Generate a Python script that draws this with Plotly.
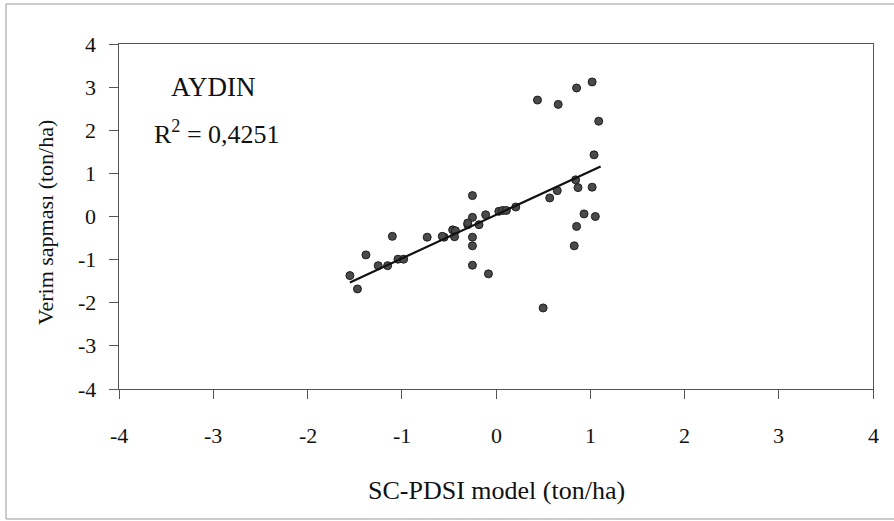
import plotly.graph_objects as go

# Scatter data (SC-PDSI model vs. yield deviation)
sc_pdsi = [-1.55, -1.47, -1.38, -1.25, -1.15, -1.10, -1.04, -0.98,
           -0.73, -0.55, -0.46, -0.43, -0.44, -0.30, -0.57,
           -0.25, -0.25, -0.25, -0.25, -0.25, -0.30, -0.18, -0.11, -0.08,
           0.03, 0.07, 0.11, 0.21, 0.44, 0.50, 0.57, 0.65, 0.66,
           0.845, 0.83, 0.855, 0.855, 0.87, 0.934, 1.02, 1.02, 1.04, 1.054, 1.09]
verim = [-1.37, -1.68, -0.89, -1.14, -1.14, -0.46, -0.99, -0.99,
         -0.48, -0.48, -0.31, -0.33, -0.47, -0.19, -0.46,
         0.485, -0.02, -0.48, -0.68, -1.13, -0.15, -0.19, 0.04, -1.33,
         0.12, 0.14, 0.14, 0.22, 2.70, -2.12, 0.43, 0.60, 2.60,
         0.85, -0.68, -0.23, 2.98, 0.67, 0.06, 3.12, 0.68, 1.43, 0.0, 2.21]

# Regression line end points
trend_x = [-1.55, 1.11]
trend_y = [-1.53, 1.16]

# Tick values and labels (both axes)
tick_vals = [-4, -3, -2, -1, 0, 1, 2, 3, 4]
tick_text = ["-4", "-3", "-2", "-1", "0", "1", "2", "3", "4"]

FONT = "Liberation Serif"
AXC = "#555555"
TXT = "#111111"

fig = go.Figure()
fig.add_trace(go.Scatter(
    x=sc_pdsi, y=verim, mode="markers",
    marker=dict(size=8, color="#4a4a4a", line=dict(color="#1e1e1e", width=1)),
    showlegend=False, hoverinfo="x+y"))
fig.add_trace(go.Scatter(
    x=trend_x, y=trend_y, mode="lines",
    line=dict(color="#111111", width=2.2),
    showlegend=False, hoverinfo="skip"))

axis_common = dict(
    range=[-4, 4], tickmode="array", tickvals=tick_vals, showticklabels=False,
    showgrid=False, zeroline=False,
    showline=True, linecolor=AXC, linewidth=1, mirror=True,
    ticks="outside", ticklen=9, tickcolor=AXC, tickwidth=1,
)
fig.update_xaxes(**axis_common)
fig.update_yaxes(**axis_common)

annotations = [
    dict(x=-3.0, y=3.0, xref="x", yref="y", text="AYDIN", showarrow=False,
         font=dict(family=FONT, size=27, color=TXT)),
    dict(x=-2.96, y=1.94, xref="x", yref="y", text="R<sup>2</sup> = 0,4251",
         showarrow=False, font=dict(family=FONT, size=26, color=TXT)),
    dict(x=0.5, y=(389 - 490) / 345, xref="paper", yref="paper",
         text="SC-PDSI model (ton/ha)", showarrow=False,
         xanchor="center", yanchor="middle",
         font=dict(family=FONT, size=26, color=TXT)),
    dict(x=(45 - 119) / 754, y=(389 - 223) / 345, xref="paper", yref="paper",
         text="Verim sapması (ton/ha)", showarrow=False, textangle=-90,
         xanchor="center", yanchor="middle",
         font=dict(family=FONT, size=22, color=TXT)),
]
# Tick labels drawn as serif text at the axis tick positions
for v, t in zip(tick_vals, tick_text):
    annotations.append(dict(
        x=v, y=(389 - 435) / 345, xref="x", yref="paper", text=t,
        showarrow=False, xanchor="center", yanchor="middle",
        font=dict(family=FONT, size=22, color=TXT)))
    annotations.append(dict(
        x=(98 - 119) / 754, y=v, xref="paper", yref="y", text=t,
        showarrow=False, xanchor="right", yanchor="middle",
        font=dict(family=FONT, size=22, color=TXT)))

fig.update_layout(
    width=894, height=521,
    margin=dict(l=119, r=21, t=44, b=132),
    paper_bgcolor="white", plot_bgcolor="white",
    font=dict(family=FONT, size=20, color=TXT),
    annotations=annotations,
    shapes=[
        dict(type="rect", xref="paper", yref="paper",
             x0=(6 - 119) / 754, x1=(900 - 119) / 754,
             y0=(389 - 519) / 345, y1=(389 - 4) / 345,
             line=dict(color="#999999", width=1), layer="below"),
    ],
)

fig.write_html("out.html")
